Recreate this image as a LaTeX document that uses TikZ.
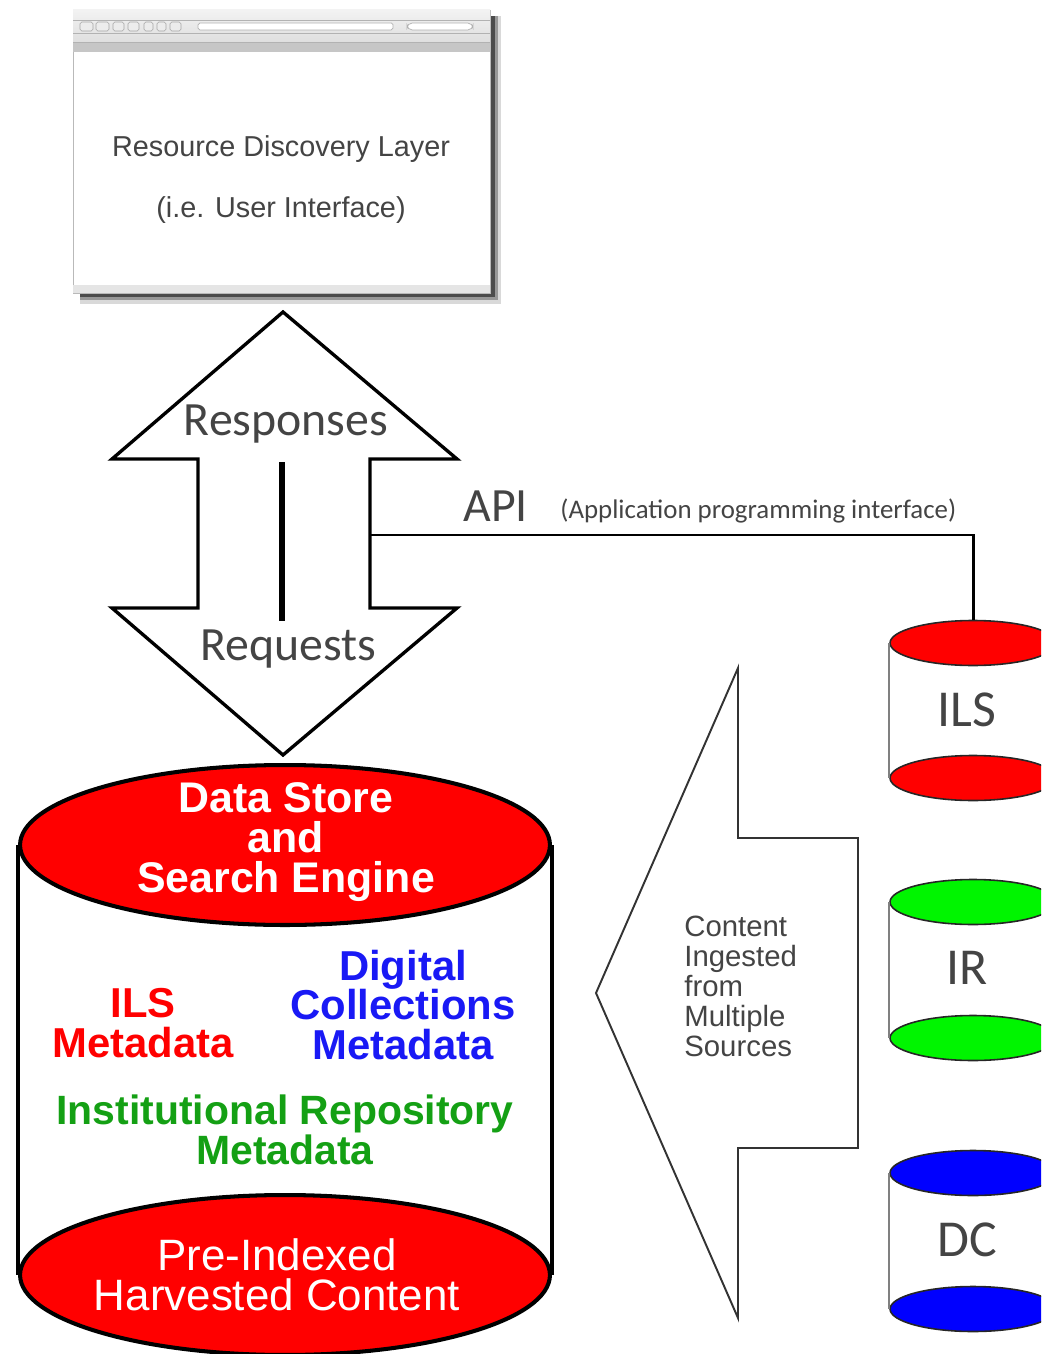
\documentclass[tikz,border=0pt]{standalone}
\usepackage{fontspec}
\setmainfont{Liberation Sans}
\newfontfamily\calfont{Carlito}
\usetikzlibrary{shapes.geometric,positioning}
\definecolor{txtgray}{RGB}{68,68,68}
\definecolor{repgreen}{RGB}{20,160,20}
\definecolor{colblue}{RGB}{25,25,245}
\definecolor{dbgreen}{RGB}{0,245,0}
\tikzset{%
	window/.style    = {draw=gray!55, fill=white, line width=0.4pt},
	toolbtn/.style   = {draw=gray!70, fill=gray!15, rounded corners=1pt, line width=0.3pt},
	bigarrow/.style  = {draw, fill=white, line width=1.9pt, line join=miter},
	slimarrow/.style = {draw=black!80, fill=white, line width=1.1pt, line join=miter},
	dbend/.style     = {draw=black!85, ellipse, inner sep=0pt, line width=0.9pt, minimum width=3.32cm, minimum height=0.9cm},
	dbside/.style    = {draw=gray, line width=0.9pt},
	bigend/.style    = {draw, ellipse, fill=red, inner sep=0pt, line width=2.3pt, minimum width=10.6cm, minimum height=3.2cm},
	uitext/.style    = {text=txtgray, inner sep=0pt, font=\fontsize{16.4}{18}\selectfont},
	arrowtext/.style = {text=txtgray, inner sep=0pt, font=\calfont\fontsize{27.2}{30}\selectfont},
	dbtext/.style    = {text=txtgray, inner sep=0pt, font=\calfont\fontsize{29.5}{32}\selectfont},
	metatext/.style  = {inner sep=0pt, align=center, font=\fontsize{23.8}{22.7}\selectfont\bfseries},
	linkline/.style  = {line width=1.7pt},
}

\begin{document}
\begin{tikzpicture}[x=0.02cm,y=-0.02cm]
	\clip (0,0) rectangle (1041,1354);
	% browser window
	\fill[black,opacity=0.15] (80,16) rectangle (501,304);
	\fill[black,opacity=0.3] (80,16) rectangle (498,300);
	\fill[black,opacity=0.5] (80,16) rectangle (495,297);
	\node[window, minimum width=8.34cm, minimum height=5.66cm] (win) at (281.5,151.5) {};
	\shade[top color=gray!10, bottom color=gray!30] (73,10) rectangle (490,52);
	\fill[gray!45] (73,42) rectangle (490,52);
	\draw[gray!60, line width=0.3pt] (73,20) -- (490,20) (73,33) -- (490,33) (73,42) -- (490,42);
	\draw[toolbtn] (80,22) rectangle (93,31) (96,22) rectangle (109,31) (113,22) rectangle (124,31)
		(128,22) rectangle (139,31) (144,22) rectangle (153,31) (157,22) rectangle (166,31) (170,22) rectangle (181,31);
	\fill[white, draw=gray!60, rounded corners=1pt] (198,23) rectangle (393,30);
	\fill[white, draw=gray!60, rounded corners=3pt] (407,23) rectangle (473,30);
	\fill[gray!20] (73,285) rectangle (490,293);
	\node[uitext, anchor=base] (rdl) at (281,157) {Resource Discovery Layer};
	\node[uitext, anchor=base] (ui) at (281,218) {(i.e. User Interface)};

	% requests / responses
	\draw[bigarrow] (283,312) -- (457,459) -- (370,459) -- (370,608) -- (457,608) -- (283,755)
		-- (112,608) -- (198,608) -- (198,459) -- (112,459) -- cycle;
	\draw[line width=3.4pt] (282,462) -- (282,621);
	\node[arrowtext, anchor=base] (resp) at (286,435) {Responses};
	\node[arrowtext, anchor=base] (req) at (288,660) {Requests};
	\coordinate (api) at (370,535);

	% source databases
	\node[dbend, fill=red] (ilstop) at (973,643) {};
	\node[dbend, fill=red] (ilsbot) at (973,778) {};
	\draw[dbside] (ilstop.west) -- (ilsbot.west) (ilstop.east) -- (ilsbot.east);
	\node[dbtext] (ils) at (967,710) {ILS};
	\node[dbend, fill=dbgreen] (irtop) at (973,902) {};
	\node[dbend, fill=dbgreen] (irbot) at (973,1038) {};
	\draw[dbside] (irtop.west) -- (irbot.west) (irtop.east) -- (irbot.east);
	\node[dbtext] (ir) at (967,968) {IR};
	\node[dbend, fill=blue] (dctop) at (973,1173) {};
	\node[dbend, fill=blue] (dcbot) at (973,1309) {};
	\draw[dbside] (dctop.west) -- (dcbot.west) (dctop.east) -- (dcbot.east);
	\node[dbtext] (dc) at (967,1240) {DC};

	\draw[linkline] (api) -| (ilstop.north);
	\node[arrowtext, anchor=base west] (apilbl) at (463,521) {API};
	\node[arrowtext, anchor=base west, font=\calfont\fontsize{15.3}{17}\selectfont] (apifull) at (560,518) {(Application programming interface)};

	% ingest arrow
	\draw[slimarrow] (738,668) -- (738,838) -- (858,838) -- (858,1148) -- (738,1148) -- (738,1318) -- (596,993) -- cycle;
	\node[text=txtgray, inner sep=0pt, align=left, anchor=north west, font=\fontsize{16.7}{17}\selectfont] (ingest) at (684,916)
		{Content\\Ingested\\from\\Multiple\\Sources};

	% data store
	\node[bigend] (dsbot) at (285,1275) {};
	\node[bigend] (dstop) at (285,845) {};
	\draw[line width=2.3pt] (dstop.west) -- (dsbot.west) (dstop.east) -- (dsbot.east);
	\node[metatext, text=white, font=\fontsize{24.4}{22.7}\selectfont\bfseries] (dstitle) at (286,842) {Data Store\\and\\Search Engine};
	\node[inner sep=0pt, align=center, text=white, font=\fontsize{25}{22.7}\selectfont] (harvest) at (277,1275) {Pre-Indexed\\Harvested Content};
	\node[metatext, text=red] (ilsmeta) at (143,1023) {ILS\\Metadata};
	\node[metatext, text=colblue] (dcmeta) at (403,1005) {Digital\\Collections\\Metadata};
	\node[metatext, text=repgreen, font=\fontsize{23.3}{22.7}\selectfont\bfseries] (irmeta) at (285,1130) {Institutional Repository\\Metadata};
\end{tikzpicture}
\end{document}
